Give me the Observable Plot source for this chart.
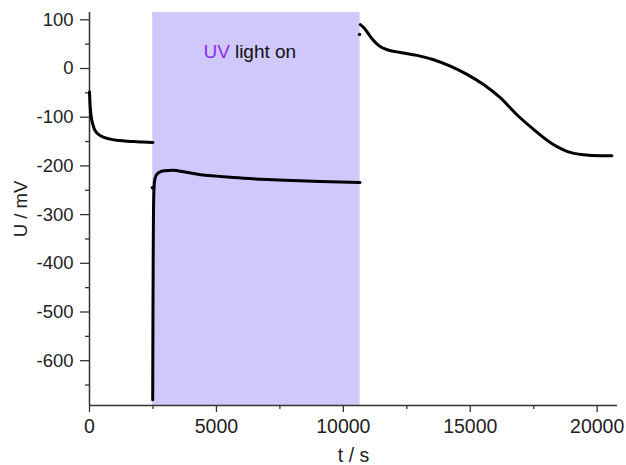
<!DOCTYPE html>
<html>
<head>
<meta charset="utf-8">
<script src="https://cdn.jsdelivr.net/npm/d3@7"></script>
<script src="https://cdn.jsdelivr.net/npm/@observablehq/plot@0.6"></script>
<style>
  html, body { margin: 0; padding: 0; background: #fff; }
</style>
</head>
<body>
<div id="chart"></div>
<script>
// Segment 1: before UV light (dark)
const seg1T = [0, 20, 66, 150, 236, 433, 827, 1200, 1732, 2100, 2500];
const seg1U = [-48, -72, -98, -118, -129, -138, -145, -148, -150, -151, -152];
// Segment 2: UV light on
const seg2T = [2490, 2500, 2510, 2520, 2535, 2560, 2620, 2750, 2950, 3300, 3700, 4370, 5000, 5670, 7000, 8000, 9100, 10660];
const seg2U = [-680, -500, -380, -300, -255, -232, -220, -213, -210, -209, -212, -218, -221, -224, -228, -230, -232, -234];
// Segment 3: after UV light off
const seg3T = [10669, 10800, 10950, 11180, 11400, 11700, 12244, 12900, 13556, 14213, 14870, 15524, 16180, 16837, 17493, 18150, 18806, 19462, 20118, 20578];
const seg3U = [90, 84, 74, 58, 47, 39, 33, 27, 18, 5, -12, -33, -60, -95, -125, -152, -170, -177, -179, -179];
// isolated points at segment starts
const dotT = [2475, 10640];
const dotU = [-245, 70];
// UV period
const uvStart = [2490];
const uvEnd = [10660];
// axes
const xDomain = [0, 20800];
const yDomain = [-692, 115];
const xTicks = [0, 5000, 10000, 15000, 20000];
const xMinor = [2500, 7500, 12500, 17500];
const yTicks = [-600, -500, -400, -300, -200, -100, 0, 100];
const yMinor = [-650, -550, -450, -350, -250, -150, -50, 50];
const annot = {x: 5630, y: 22};

const lineData = [
  ...seg1T.map((t, i) => ({t, u: seg1U[i], s: 1})),
  ...seg2T.map((t, i) => ({t, u: seg2U[i], s: 2})),
  ...seg3T.map((t, i) => ({t, u: seg3U[i], s: 3}))
];
const dots = dotT.map((t, i) => ({t, u: dotU[i]}));
const uv = uvStart.map((s, i) => ({x1: s, x2: uvEnd[i]}));

const font = "'Liberation Sans', Arial, sans-serif";
const fmt = d => String(d);

const chart = Plot.plot({
  width: 626,
  height: 465,
  marginLeft: 89,
  marginRight: 9,
  marginTop: 12,
  marginBottom: 60,
  style: {fontFamily: font, fontSize: "18px", color: "#222", background: "#fff"},
  x: {domain: xDomain},
  y: {domain: yDomain},
  marks: [
    Plot.rect(uv, {x1: "x1", x2: "x2", y1: yDomain[0], y2: yDomain[1], fill: "#d0c8fa"}),
    Plot.axisX(xTicks, {tickSize: 7, tickPadding: 7, fontSize: 19.5, tickFormat: fmt, label: "t / s", labelAnchor: "center", labelOffset: 56, labelArrow: "none", stroke: "#333", strokeWidth: 1.3}),
    Plot.axisX(xMinor, {tickSize: 4, tickFormat: () => "", label: null, stroke: "#333", strokeWidth: 1.3}),
    Plot.axisY(yTicks, {tickSize: 9, tickPadding: 7, fontSize: 18.5, tickFormat: fmt, label: "U / mV", labelAnchor: "center", labelOffset: 76, labelArrow: "none", stroke: "#333", strokeWidth: 1.3}),
    Plot.axisY(yMinor, {tickSize: 4, tickFormat: () => "", label: null, stroke: "#333", strokeWidth: 1.3}),
    Plot.ruleX([xDomain[0]], {stroke: "#333", strokeWidth: 1.5}),
    Plot.ruleY([yDomain[0]], {stroke: "#333", strokeWidth: 1.5}),
    Plot.line(lineData, {x: "t", y: "u", z: "s", stroke: "#000", strokeWidth: 3, curve: "monotone-x"}),
    Plot.dot(dots, {x: "t", y: "u", r: 1.7, fill: "#000"}),
    Plot.text([annot], {x: "x", y: "y", text: () => "UV", textAnchor: "end", lineAnchor: "bottom", dx: -2.5, fill: "#8b2cf5", fontSize: 19}),
    Plot.text([annot], {x: "x", y: "y", text: () => "light on", textAnchor: "start", lineAnchor: "bottom", dx: 2.5, fill: "#111", fontSize: 19})
  ]
});
document.getElementById("chart").appendChild(chart);
</script>
</body>
</html>
